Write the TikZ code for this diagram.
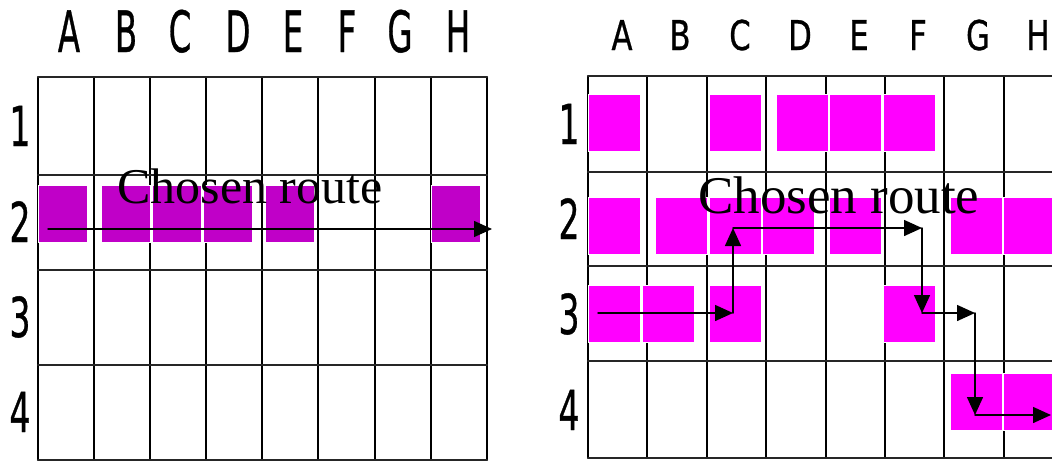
\documentclass[tikz,border=0pt]{standalone}
\usepackage{fontspec}
\setmainfont{Liberation Serif}
\newfontfamily\headfont[FakeBold=0.8]{DejaVu Sans}
\usetikzlibrary{arrows.meta}
\definecolor{leftpurple}{RGB}{192,0,200}
\definecolor{rightpink}{RGB}{255,0,255}

\begin{document}
\begin{tikzpicture}[x=1pt,y=-1pt,line cap=round,>={Triangle[length=18pt,width=16pt]},
  vline/.style={black,line width=1.3pt},
  hline/.style={black!85,line width=2.2pt},
  lcell/.style={fill=leftpurple,draw=white,line width=0.8pt,anchor=north west,inner sep=0pt,minimum width=49pt,minimum height=57pt},
  rcell/.style={fill=rightpink,draw=white,line width=0.8pt,anchor=north west,inner sep=0pt,minimum width=52pt,minimum height=57pt},
  headL/.style={font=\headfont\fontsize{57}{57}\selectfont,xscale=0.57,anchor=base,inner sep=0pt},
  headR/.style={font=\headfont\fontsize{41}{41}\selectfont,xscale=0.75,anchor=base,inner sep=0pt},
  rowlab/.style={font=\headfont\fontsize{55}{55}\selectfont,xscale=0.6,anchor=base,inner sep=0pt},
  route/.style={black,line width=1.5pt}]
\useasboundingbox (0,0) rectangle (1052,463);
% left grid
\draw[vline] (38,77) -- (38,460) (94,77) -- (94,460) (150,77) -- (150,460) (206,77) -- (206,460) (262,77) -- (262,460);
\draw[vline] (318,77) -- (318,460) (375,77) -- (375,460) (431,77) -- (431,460) (487,77) -- (487,460);
\draw[hline] (38,77) -- (487,77) (38,175) -- (487,175) (38,270) -- (487,270) (38,365) -- (487,365) (38,460) -- (487,460);
% right grid
\draw[vline] (588,76) -- (588,458) (647,76) -- (647,458) (707,76) -- (707,458) (766,76) -- (766,458);
\draw[vline] (826,76) -- (826,458) (885,76) -- (885,458) (944,76) -- (944,458) (1004,76) -- (1004,458);
\draw[hline] (588,76) -- (1052,76) (588,172) -- (1052,172) (588,266) -- (1052,266) (588,361) -- (1052,361) (588,458) -- (1052,458);
% left cells
\node[lcell] (l2A) at (38,185) {};
\node[lcell] (l2B) at (101,185) {};
\node[lcell] (l2C) at (152,185) {};
\node[lcell] (l2D) at (203,185) {};
\node[lcell] (l2E) at (265,185) {};
\node[lcell] (l2H) at (431,185) {};
% right cells
\node[rcell] (r1A) at (588,94) {};
\node[rcell] (r1C) at (709,94) {};
\node[rcell] (r1D) at (776,94) {};
\node[rcell] (r1E) at (829,94) {};
\node[rcell] (r1F) at (883,94) {};
\node[rcell] (r2A) at (588,197) {};
\node[rcell] (r2B) at (655,197) {};
\node[rcell] (r2C) at (709,197) {};
\node[rcell] (r2D) at (762,197) {};
\node[rcell] (r2E) at (829,197) {};
\node[rcell] (r2G) at (950,197) {};
\node[rcell] (r2H) at (1003,197) {};
\node[rcell] (r3A) at (588,285) {};
\node[rcell] (r3B) at (642,285) {};
\node[rcell] (r3C) at (709,285) {};
\node[rcell] (r3F) at (883,285) {};
\node[rcell] (r4G) at (950,373) {};
\node[rcell] (r4H) at (1003,373) {};
% headings
\node[headL] (lhA) at (69,52) {A};
\node[headL] (lhB) at (126,52) {B};
\node[headL] (lhC) at (180,52) {C};
\node[headL] (lhD) at (238,52) {D};
\node[headL] (lhE) at (293,52) {E};
\node[headL] (lhF) at (347,52) {F};
\node[headL] (lhG) at (400,52) {G};
\node[headL] (lhH) at (458,52) {H};
\node[headR] (rhA) at (622,50) {A};
\node[headR] (rhB) at (680,50) {B};
\node[headR] (rhC) at (740,50) {C};
\node[headR] (rhD) at (800,50) {D};
\node[headR] (rhE) at (859,50) {E};
\node[headR] (rhF) at (918,50) {F};
\node[headR] (rhG) at (978,50) {G};
\node[headR] (rhH) at (1038,50) {H};
\node[rowlab] (lr1) at (20,146) {1};
\node[rowlab] (lr2) at (20,242) {2};
\node[rowlab] (lr3) at (20,337) {3};
\node[rowlab] (lr4) at (20,432) {4};
\node[rowlab] (rr1) at (569,144) {1};
\node[rowlab] (rr2) at (569,239) {2};
\node[rowlab] (rr3) at (569,334) {3};
\node[rowlab] (rr4) at (569,430) {4};
% routes
\node[font=\fontsize{50}{50}\selectfont,anchor=base west,inner sep=0pt] (ltext) at (117,203) {Chosen route};
\node[font=\fontsize{53}{53}\selectfont,anchor=base west,inner sep=0pt] (rtext) at (698,213) {Chosen route};
\coordinate (lstart) at (48,229);
\coordinate (lend) at (492,229);
\draw[route,->] (lstart) -- (lend);
\coordinate (p0) at (598,313);
\coordinate (p1) at (733,313);
\coordinate (p2) at (733,228);
\coordinate (p3) at (922,228);
\coordinate (p4) at (922,313);
\coordinate (p5) at (975,313);
\coordinate (p6) at (975,415);
\coordinate (p7) at (1051,415);
\draw[route,->] (p0) -- (p1);
\draw[route,->] (p1) -- (p2);
\draw[route,->] (p2) -- (p3);
\draw[route,->] (p3) -- (p4);
\draw[route,->] (p4) -- (p5);
\draw[route,->] (p5) -- (p6);
\draw[route,->] (p6) -- (p7);
\end{tikzpicture}
\end{document}
